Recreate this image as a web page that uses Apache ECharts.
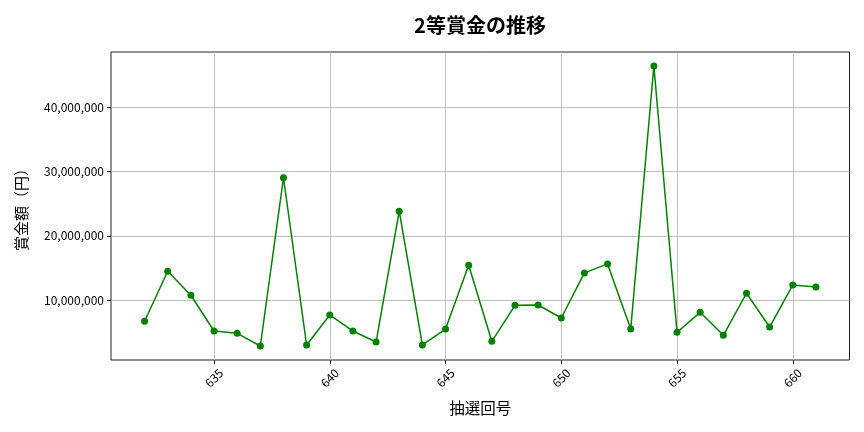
<!DOCTYPE html>
<html><head><meta charset="utf-8">
<script src="https://cdn.jsdelivr.net/npm/echarts@6/dist/echarts.min.js"></script>
<style>html,body{margin:0;padding:0;background:#fff}#c{width:864px;height:432px}</style>
</head><body><div id="c"></div>
<script>
const rounds = [632,633,634,635,636,637,638,639,640,641,642,643,644,645,646,647,648,649,650,651,652,653,654,655,656,657,658,659,660,661];
const prizes = [6740000,14510000,10780000,5230000,4870000,2900000,29020000,3060000,7720000,5230000,3520000,23830000,3060000,5540000,15440000,3630000,9220000,9270000,7250000,14250000,15650000,5540000,46370000,5030000,8130000,4560000,11090000,5850000,12380000,12070000];
const xTicks = [635,640,645,650,655,660];
const yTicks = [10000000,20000000,30000000,40000000];
const titleText = '2等賞金の推移';
const xName = '抽選回号';
const yName = '賞金額（円）';

const font = 'Noto Sans CJK JP';
const chart = echarts.init(document.getElementById('c'), null, {renderer:'canvas'});
const fmt = v => Math.round(v).toString().replace(/\B(?=(\d{3})+(?!\d))/g, ',');
chart.setOption({
  animation:false,
  backgroundColor:'#fff',
  title:{text:titleText,left:475,top:10,textAlign:'center',textStyle:{fontFamily:font,fontSize:20,fontWeight:'bold',color:'#000'}},
  grid:{left:111,right:14.5,top:52,bottom:72,show:true,borderColor:'#222',borderWidth:1,backgroundColor:'transparent'},
  xAxis:{type:'value',min:630.55,max:662.45,
    name:xName,nameLocation:'middle',nameGap:40,nameTextStyle:{fontFamily:font,fontSize:15.5,color:'#000'},
    axisLine:{show:false},
    axisTick:{show:true,customValues:xTicks,length:4,lineStyle:{color:'#222'}},
    axisLabel:{customValues:xTicks,rotate:45,align:'center',verticalAlign:'middle',fontFamily:font,fontSize:12,color:'#000',margin:18},
    splitLine:{show:true,lineStyle:{color:'#b0b0b0',width:0.8}}},
  yAxis:{type:'value',min:730000,max:48540000,
    name:yName,nameLocation:'middle',nameGap:82,nameRotate:90,nameTextStyle:{fontFamily:font,fontSize:15,color:'#000'},
    axisLine:{show:false},
    axisTick:{show:true,customValues:yTicks,length:4,lineStyle:{color:'#222'}},
    axisLabel:{customValues:yTicks,formatter:fmt,fontFamily:font,fontSize:12,color:'#000',margin:7},
    splitLine:{show:true,lineStyle:{color:'#b0b0b0',width:0.8}}},
  series:[{type:'line',data:rounds.map((r,i)=>[r,prizes[i]]),
    lineStyle:{color:'#008000',width:1.5},itemStyle:{color:'#008000'},
    symbol:'circle',symbolSize:7,showSymbol:true}]
});
</script></body></html>
